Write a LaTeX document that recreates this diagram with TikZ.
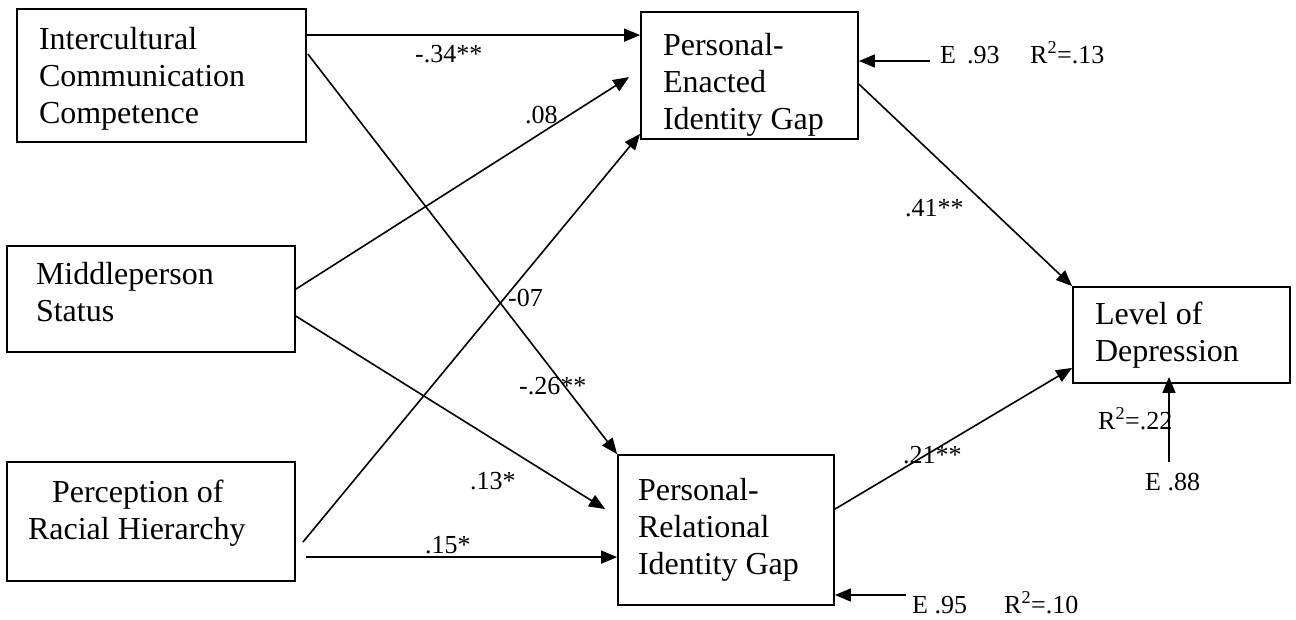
\documentclass[tikz,border=0pt]{standalone}
\usepackage{fontspec}
\setmainfont{Liberation Serif}
\usetikzlibrary{arrows.meta}

\tikzset{
  box/.style={draw, line width=1.8pt, inner sep=0pt, align=flush left,
    font=\fontsize{32}{37}\selectfont},
  lbl/.style={inner sep=0pt, anchor=base west,
    font=\fontsize{26}{30}\selectfont},
  arr/.style={line width=1.6pt, -{Triangle[length=16pt,width=13pt]}},
}

\begin{document}
\begin{tikzpicture}[x=1pt,y=-1pt]
    \useasboundingbox (0,0) rectangle (1296,619);

    % predictors
    \node[box, minimum width=289pt, minimum height=133pt, text width=245pt] (icc) at (161.5,75.5) {\rule{0pt}{28pt}Intercultural\\Communication\\Competence};
    \node[box, minimum width=288pt, minimum height=106pt, text width=230pt] (ms) at (151,299) {Middleperson\\Status\rule[-15pt]{0pt}{0pt}};
    \node[box, minimum width=288pt, minimum height=119pt, text width=246pt] (prh) at (151,521.5) {\hspace*{24pt}Perception of\\Racial Hierarchy\rule[-23pt]{0pt}{0pt}};

    % identity gaps
    \node[box, minimum width=217pt, minimum height=127pt, text width=173pt] (peig) at (749.5,75.5) {\rule{0pt}{40pt}Personal-\\Enacted\\Identity Gap};
    \node[box, minimum width=216pt, minimum height=150pt, text width=176pt] (prig) at (726,530) {Personal-\\Relational\\Identity Gap};

    % outcome
    \node[box, minimum width=217pt, minimum height=96pt, text width=173pt] (lod) at (1181.5,335) {Level of\\Depression};

    % paths to the gaps
    \draw[arr] ([shift={(0,27)}]icc.north east) coordinate (a1) -- (a1 -| peig.west);
    \draw[arr] ([shift={(1,46)}]icc.north east) -- (prig.north west);
    \draw[arr] ([shift={(0,44)}]ms.north east) -- ([shift={(-11,66)}]peig.north west);
    \draw[arr] ([shift={(7,81)}]prh.north east) -- ([shift={(0,-6)}]peig.south west);
    \draw[arr] ([shift={(0,71)}]ms.north east) -- ([shift={(-12,55)}]prig.north west);
    \draw[arr] ([shift={(10,96)}]prh.north east) coordinate (a6) -- (a6 -| prig.west);

    % paths to depression
    \draw[arr] ([shift={(0,73)}]peig.north east) -- (lod.north west);
    \draw[arr] ([shift={(0,55)}]prig.north east) -- ([shift={(0,-16)}]lod.south west);

    % coefficients
    \node[lbl] (c1) at (415,62) {-.34**};
    \node[lbl] (c2) at (525,123) {.08};
    \node[lbl] (c3) at (508,306) {-07};
    \node[lbl] (c4) at (519,394) {-.26**};
    \node[lbl] (c5) at (470,489) {.13*};
    \node[lbl] (c6) at (425,553) {.15*};
    \node[lbl] (c7) at (905,216) {.41**};
    \node[lbl] (c8) at (903,463) {.21**};

    % errors and R squared
    \coordinate (e1) at (930,61);
    \draw[arr] (e1) -- (e1 -| peig.east);
    \node[lbl] (err1) at (940,63) {E\hspace{11pt}.93};
    \node[lbl] (rsq1) at (1030,63) {R\textsuperscript{2}=.13};

    \coordinate (e2) at (906,595);
    \draw[arr] (e2) -- (e2 -| prig.east);
    \node[lbl] (err2) at (912,613) {E .95};
    \node[lbl] (rsq2) at (1004,613) {R\textsuperscript{2}=.10};

    \coordinate (e3) at (1169,462);
    \draw[arr] (e3) -- ([yshift=7pt]e3 |- lod.south);
    \node[lbl] (rsq3) at (1098,429) {R\textsuperscript{2}=.22};
    \node[lbl] (err3) at (1145,490) {E .88};
  \end{tikzpicture}
\end{document}
